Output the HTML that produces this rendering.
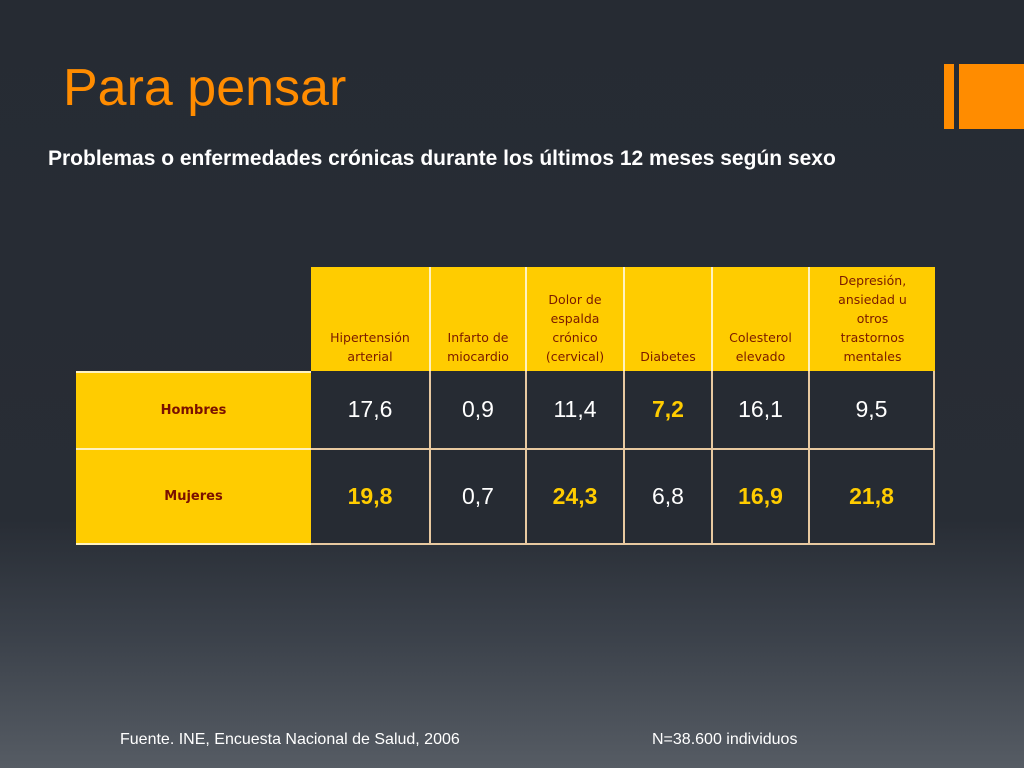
<!DOCTYPE html>
<html><head><meta charset="utf-8"><style>
body{margin:0;width:1024px;height:768px;overflow:hidden;font-family:"Liberation Sans",sans-serif;
background:linear-gradient(to bottom,#262b33 0px,#282d35 520px,#3c424b 640px,#565c64 768px);position:relative}
.a{position:absolute}
.c{position:absolute;box-sizing:border-box;display:flex;align-items:center;justify-content:center;text-align:center}
.h{background:#ffcc00;color:#7a1a00;font-family:"DejaVu Sans",sans-serif;font-size:12.5px;line-height:19px;align-items:flex-end;padding-bottom:5px;border-right:2px solid #fff2c0}
.r{background:#ffcc00;color:#7a1000;font-weight:bold;font-family:"DejaVu Sans",sans-serif;font-size:13px;border-bottom:2px solid #fff2c0}
.v{background:#262b33;color:#fff;font-size:23px;border-right:2px solid #e8c9a0;border-bottom:2px solid #e8c9a0}
.b{color:#ffcc00;font-weight:bold}
</style></head><body>
<div class="a" style="left:63px;top:58px;font-size:52px;color:#ff8c00">Para pensar</div>
<div class="a" style="left:944px;top:64px;width:10px;height:65px;background:#ff8c00"></div>
<div class="a" style="left:959px;top:64px;width:65px;height:65px;background:#ff8c00"></div>
<div class="a" style="left:48px;top:143px;width:920px;font-size:21px;font-weight:bold;color:#fff;line-height:32px">Problemas o enfermedades crónicas durante los últimos 12 meses según sexo</div>

<div class="c h" style="left:311px;top:267px;width:120px;height:104px">Hipertensión<br>arterial</div>
<div class="c h" style="left:431px;top:267px;width:96px;height:104px">Infarto de<br>miocardio</div>
<div class="c h" style="left:527px;top:267px;width:98px;height:104px">Dolor de<br>espalda<br>crónico<br>(cervical)</div>
<div class="c h" style="left:625px;top:267px;width:88px;height:104px">Diabetes</div>
<div class="c h" style="left:713px;top:267px;width:97px;height:104px">Colesterol<br>elevado</div>
<div class="c h" style="left:810px;top:267px;width:125px;height:104px;border-right:none">Depresión,<br>ansiedad u<br>otros<br>trastornos<br>mentales</div>

<div class="c r" style="left:76px;top:371px;width:235px;height:79px;border-top:2px solid #fff2c0">Hombres</div>
<div class="c r" style="left:76px;top:450px;width:235px;height:95px">Mujeres</div>

<div class="c v" style="left:311px;top:371px;width:120px;height:79px">17,6</div>
<div class="c v" style="left:431px;top:371px;width:96px;height:79px">0,9</div>
<div class="c v" style="left:527px;top:371px;width:98px;height:79px">11,4</div>
<div class="c v b" style="left:625px;top:371px;width:88px;height:79px">7,2</div>
<div class="c v" style="left:713px;top:371px;width:97px;height:79px">16,1</div>
<div class="c v" style="left:810px;top:371px;width:125px;height:79px">9,5</div>

<div class="c v b" style="left:311px;top:450px;width:120px;height:95px">19,8</div>
<div class="c v" style="left:431px;top:450px;width:96px;height:95px">0,7</div>
<div class="c v b" style="left:527px;top:450px;width:98px;height:95px">24,3</div>
<div class="c v" style="left:625px;top:450px;width:88px;height:95px">6,8</div>
<div class="c v b" style="left:713px;top:450px;width:97px;height:95px">16,9</div>
<div class="c v b" style="left:810px;top:450px;width:125px;height:95px">21,8</div>
<div class="a" style="left:76px;top:543px;width:235px;height:2px;background:#fff2c0"></div>

<div class="a" style="left:120px;top:731px;font-size:16px;color:#fff">Fuente. INE, Encuesta Nacional de Salud, 2006</div>
<div class="a" style="left:652px;top:731px;font-size:16px;color:#fff">N=38.600 individuos</div>
</body></html>
